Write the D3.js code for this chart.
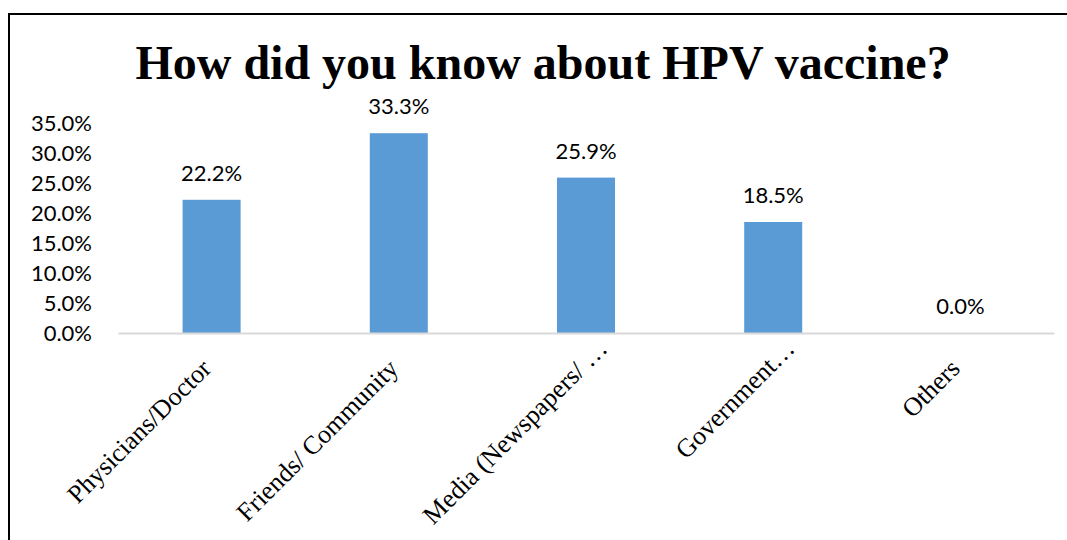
<!DOCTYPE html>
<html><head><meta charset="utf-8">
<script src="https://cdn.jsdelivr.net/npm/d3@7"></script>
<style>body{margin:0;background:#fff}svg{display:block}</style>
</head><body>
<script>
const categories = ["Physicians/Doctor","Friends/ Community","Media (Newspapers/ …","Government…","Others"];
const values = [22.2, 33.3, 25.9, 18.5, 0.0];
const yTicks = [0,5,10,15,20,25,30,35];
const title = "How did you know about HPV vaccine?";

const W=1067,H=540;
const svg=d3.select("body").append("svg").attr("width",W).attr("height",H);
svg.append("rect").attr("width",W).attr("height",H).attr("fill","#fff");
svg.append("rect").attr("x",9).attr("y",14).attr("width",W+20).attr("height",H+20)
  .attr("fill","none").attr("stroke","#000").attr("stroke-width",2);

const x=d3.scaleBand().domain(categories).range([118,1054]).paddingInner(0.69).paddingOuter(0.345);
const y=d3.scaleLinear().domain([0,35]).range([333,123]);

svg.append("text").attr("x",543).attr("y",79).attr("text-anchor","middle")
  .attr("font-family","Liberation Serif").attr("font-weight","bold").attr("font-size",48)
  .text(title);

const yAxis=svg.append("g").attr("transform","translate(92,0)")
  .call(d3.axisLeft(y).tickValues(yTicks).tickSize(0).tickPadding(0).tickFormat(d=>d.toFixed(1)+"%"));
yAxis.select(".domain").remove();
yAxis.selectAll("text").attr("font-family","Lato, Open Sans, sans-serif").attr("font-size",22).attr("fill","#000");

svg.selectAll(".bar").data(values).join("rect").attr("class","bar")
  .attr("x",(d,i)=>x(categories[i])).attr("width",x.bandwidth())
  .attr("y",d=>y(d)).attr("height",d=>y(0)-y(d)).attr("fill","#5b9bd5");

const xAxis=svg.append("g").attr("transform","translate(0,333)")
  .call(d3.axisBottom(x).tickSize(0).tickPadding(0));
xAxis.select(".domain").attr("stroke","#d9d9d9").attr("stroke-width",2);
xAxis.selectAll("text").attr("font-family","Liberation Serif").attr("font-size",26).attr("fill","#000")
  .attr("text-anchor","end").attr("dy",0)
  .attr("transform",d=>d.endsWith("…") ? "translate(23,17) rotate(-45)" : "translate(1,37) rotate(-45)");

svg.selectAll(".lbl").data(values).join("text").attr("class","lbl")
  .attr("x",(d,i)=>x(categories[i])+x.bandwidth()/2).attr("y",d=>y(d)-19)
  .attr("text-anchor","middle").attr("font-family","Lato, Open Sans, sans-serif").attr("font-size",22)
  .text(d=>d.toFixed(1)+"%");
</script>
</body></html>
